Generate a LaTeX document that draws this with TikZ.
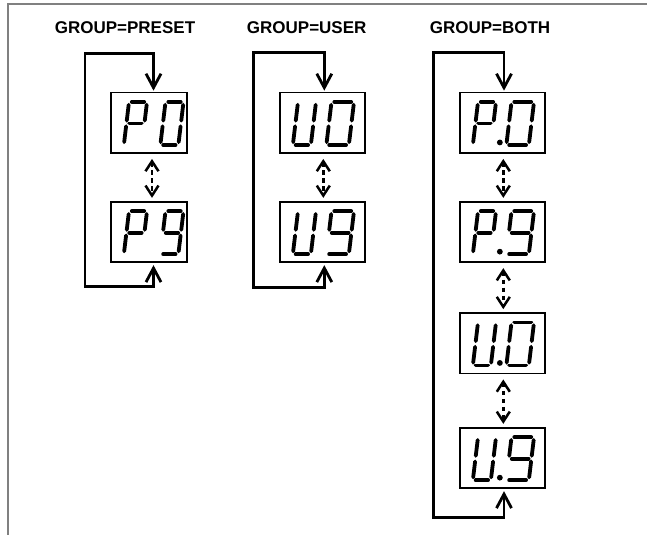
\documentclass[tikz,border=0pt]{standalone}
\usepackage{fontspec}
\setmainfont{Liberation Sans}
\usetikzlibrary{arrows.meta,calc}
\newcommand\sevenseg[3]{%
  \begin{scope}[shift={(#1)},xslant=0.12]
    \foreach \s in {#3}{%
      \ifcase\s\relax
        \draw[seg] (2.8pt,43pt) -- (#2pt-2.8pt,43pt);
      \or \draw[seg] (#2pt,40.2pt) -- (#2pt,24.3pt);
      \or \draw[seg] (#2pt,18.7pt) -- (#2pt,2.8pt);
      \or \draw[seg] (2.8pt,0pt) -- (#2pt-2.8pt,0pt);
      \or \draw[seg] (0pt,18.7pt) -- (0pt,2.8pt);
      \or \draw[seg] (0pt,40.2pt) -- (0pt,24.3pt);
      \or \draw[seg] (2.8pt,21.5pt) -- (#2pt-2.8pt,21.5pt);
      \fi}
  \end{scope}}
\begin{document}
\begin{tikzpicture}[x=1pt,y=-1pt,
  seg/.style={line width=3.8pt,line cap=round},
  disp/.style={draw,line width=1.8pt,minimum height=60.5pt,inner sep=0pt},
  title/.style={anchor=base,font=\fontsize{17pt}{20pt}\selectfont\bfseries,inner sep=0pt},
  loopline/.style={line width=2.8pt,{Straight Barb[length=14pt,width=15pt]}-{Straight Barb[length=14pt,width=15pt]},shorten <=2pt,shorten >=1pt},
  dotarrow/.style={line width=2.5pt,dash pattern=on 4.5pt off 3.5pt,{Straight Barb[length=10pt,width=13pt]}-{Straight Barb[length=10pt,width=13pt]},shorten <=5pt,shorten >=3pt},
  frame/.style={draw=black!50,line width=1.7pt}]
\useasboundingbox (0,0) rectangle (647,535);
\draw[frame] (647,4.3) -- (8,4.3) -- (8,535);

% titles
\node[title] (t1) at (125,33.3) {GROUP=PRESET};
\node[title] (t2) at (306.7,33.3) {GROUP=USER};
\node[title] (t3) at (490,33.3) {GROUP=BOTH};

% displays
\node[disp,minimum width=75.5pt] (P0) at (149,122.8) {};
\node[disp,minimum width=75.5pt] (P9) at (149,232) {};
\node[disp,minimum width=84.5pt] (U0) at (322.5,122.8) {};
\node[disp,minimum width=84.5pt] (U9) at (322.5,232) {};
\node[disp,minimum width=84.5pt] (BP0) at (502.5,122.8) {};
\node[disp,minimum width=84.5pt] (BP9) at (502.5,232) {};
\node[disp,minimum width=84.5pt] (BU0) at (502.5,343.3) {};
\node[disp,minimum width=84.5pt] (BU9) at (502.5,458) {};

% digits column 1
\sevenseg{$(P0.south west)+(13.5pt,9pt)$}{18}{0,1,4,5,6}
\sevenseg{$(P0.south west)+(50pt,9pt)$}{18}{0,1,2,3,4,5}
\sevenseg{$(P9.south west)+(13.5pt,9pt)$}{18}{0,1,4,5,6}
\sevenseg{$(P9.south west)+(50pt,9pt)$}{18}{0,1,2,3,5,6}
% digits column 2
\sevenseg{$(U0.south west)+(13.5pt,9pt)$}{18}{1,2,3,4,5}
\sevenseg{$(U0.south west)+(47pt,9pt)$}{22.5}{0,1,2,3,4,5}
\sevenseg{$(U9.south west)+(13.5pt,9pt)$}{18}{1,2,3,4,5}
\sevenseg{$(U9.south west)+(47pt,9pt)$}{22.5}{0,1,2,3,5,6}
% digits column 3
\sevenseg{$(BP0.south west)+(13.5pt,9pt)$}{18}{0,1,4,5,6}
\sevenseg{$(BP0.south west)+(47pt,9pt)$}{22.5}{0,1,2,3,4,5}
\sevenseg{$(BP9.south west)+(13.5pt,9pt)$}{18}{0,1,4,5,6}
\sevenseg{$(BP9.south west)+(47pt,9pt)$}{22.5}{0,1,2,3,5,6}
\sevenseg{$(BU0.south west)+(13.5pt,9pt)$}{18}{1,2,3,4,5}
\sevenseg{$(BU0.south west)+(47pt,9pt)$}{22.5}{0,1,2,3,4,5}
\sevenseg{$(BU9.south west)+(13.5pt,9pt)$}{18}{1,2,3,4,5}
\sevenseg{$(BU9.south west)+(47pt,9pt)$}{22.5}{0,1,2,3,5,6}
\foreach \n in {BP0,BP9,BU0,BU9}
  \fill ($(\n.south west)+(40.5pt,11.5pt)$) circle (2.9pt);

% loops
\coordinate (a1t) at (153.5,53.5);
\coordinate (a1b) at (153.5,286.5);
\coordinate (l1t) at (85,53.5);
\coordinate (l1b) at (85,286.5);
\draw[loopline] (P9.south -| a1b) -- (a1b) -- (l1b) -- (l1t) -- (a1t) -- (P0.north -| a1t);

\coordinate (a2t) at (324.3,52.5);
\coordinate (a2b) at (324.3,287.3);
\coordinate (l2t) at (253.3,52.5);
\coordinate (l2b) at (253.3,287.3);
\draw[loopline] (U9.south -| a2b) -- (a2b) -- (l2b) -- (l2t) -- (a2t) -- (U0.north -| a2t);

\coordinate (a3t) at (504,52.5);
\coordinate (a3b) at (504,517.3);
\coordinate (l3t) at (433.3,52.5);
\coordinate (l3b) at (433.3,517.3);
\draw[loopline] (BU9.south -| a3b) -- (a3b) -- (l3b) -- (l3t) -- (a3t) -- (BP0.north -| a3t);

% dotted double arrows
\coordinate (d1) at (152,0);
\coordinate (d2) at (323.3,0);
\coordinate (d3) at (503.3,0);
\draw[dotarrow] (P0.south -| d1) -- (P9.north -| d1);
\draw[dotarrow] (U0.south -| d2) -- (U9.north -| d2);
\draw[dotarrow] (BP0.south -| d3) -- (BP9.north -| d3);
\draw[dotarrow] (BP9.south -| d3) -- (BU0.north -| d3);
\draw[dotarrow] (BU0.south -| d3) -- (BU9.north -| d3);
\end{tikzpicture}
\end{document}
